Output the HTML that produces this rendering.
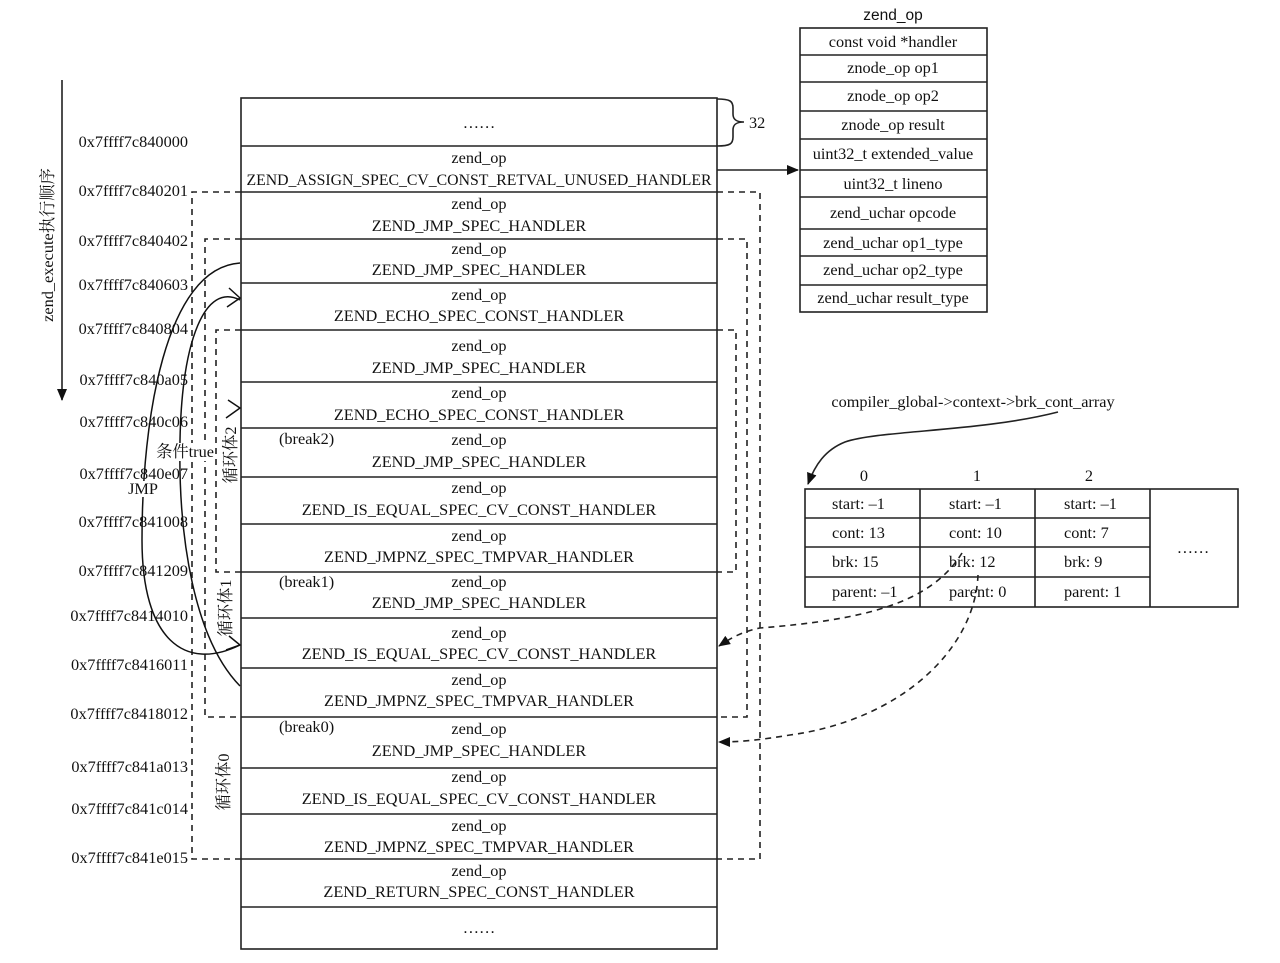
<!DOCTYPE html>
<html><head><meta charset="utf-8"><style>
html,body{margin:0;padding:0;background:#fff;}
svg{display:block;}
text{font-family:"Liberation Serif","Noto Serif CJK SC","Noto Sans CJK SC",serif;font-size:16.3px;fill:#111;}
.s{font-family:"Liberation Sans","DejaVu Sans",sans-serif;font-size:15.5px;}
</style></head><body>
<svg width="1280" height="963" viewBox="0 0 1280 963" xmlns="http://www.w3.org/2000/svg">
<defs>
<marker id="ah" markerWidth="12" markerHeight="10" refX="11" refY="5" orient="auto" markerUnits="userSpaceOnUse"><path d="M0,0 L12,5 L0,10 z" fill="#111"/></marker>
</defs>
<g stroke="#222" stroke-width="1.6" fill="none">
<rect x="241" y="98" width="476" height="851"/>
<path d="M241,146H717M241,192H717M241,239H717M241,283H717M241,330H717M241,382H717M241,428H717M241,477H717M241,524H717M241,572H717M241,618H717M241,668H717M241,717H717M241,768H717M241,814H717M241,859H717M241,907H717"/>
<path d="M717,99 C730,99 733,101 733,108 L733,114 C733,120 737,122 744,122 C737,122 733,124 733,130 L733,137 C733,144 730,146 717,146"/>
<path d="M717,170 H798" marker-end="url(#ah)"/>
<rect x="800" y="28" width="187" height="284"/>
<path d="M800,55H987M800,82H987M800,111H987M800,139H987M800,170H987M800,197H987M800,229H987M800,256H987M800,285H987"/>
<rect x="805" y="489" width="433" height="118"/>
<path d="M805,518H1150M805,547H1150M805,577H1150M920,489V607M1035,489V607M1150,489V607"/>
<path d="M1058,412 C980,432 880,430 845,442 C825,450 815,465 808,484" marker-end="url(#ah)"/>
<path d="M62,80 V400" marker-end="url(#ah)"/>
</g>
<g stroke="#222" stroke-width="1.6" fill="none" stroke-dasharray="6,5">
<path d="M241,192 H192 V859 H241"/>
<path d="M717,192 H760 V859 H717"/>
<path d="M241,239 H205 V717 H241"/>
<path d="M717,239 H747 V717 H717"/>
<path d="M241,330 H216 V572 H241"/>
<path d="M717,330 H736 V572 H717"/>
<path d="M962,553 C930,605 860,620 760,628 C740,632 728,640 719,646" marker-end="url(#ah)"/>
<path d="M978,575 C975,650 900,720 790,735 C760,740 740,742 719,742" marker-end="url(#ah)"/>
</g>
<g stroke="#111" stroke-width="1.5" fill="none">
<path d="M240,263 C165,268 142,420 142,540 C142,640 185,672 240,645"/>
<path d="M240,686 C195,640 178,540 180,440 C182,340 205,282 240,300"/>
<path d="M229,288 L240,298 L227,307"/>
<path d="M228,400 L240,408 L226,418"/>
<path d="M229,636 L240,645 L226,650"/>
</g>
<rect x="155" y="443" width="58" height="18" fill="#fff"/>
<rect x="128" y="481" width="32" height="16" fill="#fff"/>
<text x="185" y="457" text-anchor="middle">条件true</text>
<text x="143" y="494" text-anchor="middle">JMP</text>
<g text-anchor="end">
<text x="188" y="147">0x7ffff7c840000</text>
<text x="188" y="196">0x7ffff7c840201</text>
<text x="188" y="246">0x7ffff7c840402</text>
<text x="188" y="290">0x7ffff7c840603</text>
<text x="188" y="334">0x7ffff7c840804</text>
<text x="188" y="385">0x7ffff7c840a05</text>
<text x="188" y="427">0x7ffff7c840c06</text>
<text x="188" y="479">0x7ffff7c840e07</text>
<text x="188" y="527">0x7ffff7c841008</text>
<text x="188" y="576">0x7ffff7c841209</text>
<text x="188" y="621">0x7ffff7c8414010</text>
<text x="188" y="670">0x7ffff7c8416011</text>
<text x="188" y="719">0x7ffff7c8418012</text>
<text x="188" y="772">0x7ffff7c841a013</text>
<text x="188" y="814">0x7ffff7c841c014</text>
<text x="188" y="863">0x7ffff7c841e015</text>
</g>
<text transform="translate(53,245) rotate(-90)" text-anchor="middle">zend_execute执行顺序</text>
<text transform="translate(236,455) rotate(-90)" text-anchor="middle">循环体2</text>
<text transform="translate(231,608) rotate(-90)" text-anchor="middle">循环体1</text>
<text transform="translate(229,782) rotate(-90)" text-anchor="middle">循环体0</text>
<g text-anchor="middle">
<text x="479" y="128">……</text>
<text x="479" y="163">zend_op</text><text x="479" y="185" textLength="465" lengthAdjust="spacingAndGlyphs">ZEND_ASSIGN_SPEC_CV_CONST_RETVAL_UNUSED_HANDLER</text>
<text x="479" y="209">zend_op</text><text x="479" y="231">ZEND_JMP_SPEC_HANDLER</text>
<text x="479" y="254">zend_op</text><text x="479" y="275">ZEND_JMP_SPEC_HANDLER</text>
<text x="479" y="300">zend_op</text><text x="479" y="321">ZEND_ECHO_SPEC_CONST_HANDLER</text>
<text x="479" y="351">zend_op</text><text x="479" y="373">ZEND_JMP_SPEC_HANDLER</text>
<text x="479" y="398">zend_op</text><text x="479" y="420">ZEND_ECHO_SPEC_CONST_HANDLER</text>
<text x="479" y="445">zend_op</text><text x="479" y="467">ZEND_JMP_SPEC_HANDLER</text>
<text x="479" y="493">zend_op</text><text x="479" y="515">ZEND_IS_EQUAL_SPEC_CV_CONST_HANDLER</text>
<text x="479" y="541">zend_op</text><text x="479" y="562">ZEND_JMPNZ_SPEC_TMPVAR_HANDLER</text>
<text x="479" y="587">zend_op</text><text x="479" y="608">ZEND_JMP_SPEC_HANDLER</text>
<text x="479" y="638">zend_op</text><text x="479" y="659">ZEND_IS_EQUAL_SPEC_CV_CONST_HANDLER</text>
<text x="479" y="685">zend_op</text><text x="479" y="706">ZEND_JMPNZ_SPEC_TMPVAR_HANDLER</text>
<text x="479" y="734">zend_op</text><text x="479" y="756">ZEND_JMP_SPEC_HANDLER</text>
<text x="479" y="782">zend_op</text><text x="479" y="804">ZEND_IS_EQUAL_SPEC_CV_CONST_HANDLER</text>
<text x="479" y="831">zend_op</text><text x="479" y="852">ZEND_JMPNZ_SPEC_TMPVAR_HANDLER</text>
<text x="479" y="876">zend_op</text><text x="479" y="897">ZEND_RETURN_SPEC_CONST_HANDLER</text>
<text x="479" y="933">……</text>
</g>
<text x="279" y="444">(break2)</text>
<text x="279" y="587">(break1)</text>
<text x="279" y="732">(break0)</text>
<text x="749" y="128">32</text>
<text class="s" x="893" y="20" text-anchor="middle">zend_op</text>
<g text-anchor="middle">
<text x="893" y="47">const void *handler</text>
<text x="893" y="73">znode_op op1</text>
<text x="893" y="101">znode_op op2</text>
<text x="893" y="130">znode_op result</text>
<text x="893" y="159">uint32_t extended_value</text>
<text x="893" y="189">uint32_t lineno</text>
<text x="893" y="218">zend_uchar opcode</text>
<text x="893" y="248">zend_uchar op1_type</text>
<text x="893" y="275">zend_uchar op2_type</text>
<text x="893" y="303">zend_uchar result_type</text>
</g>
<text x="973" y="407" text-anchor="middle">compiler_global-&gt;context-&gt;brk_cont_array</text>
<g text-anchor="middle">
<text x="864" y="481">0</text><text x="977" y="481">1</text><text x="1089" y="481">2</text>
<text x="1193" y="553">……</text>
</g>
<g>
<text x="832" y="509">start: –1</text><text x="832" y="538">cont: 13</text><text x="832" y="567">brk: 15</text><text x="832" y="597">parent: –1</text>
<text x="949" y="509">start: –1</text><text x="949" y="538">cont: 10</text><text x="949" y="567">brk: 12</text><text x="949" y="597">parent: 0</text>
<text x="1064" y="509">start: –1</text><text x="1064" y="538">cont: 7</text><text x="1064" y="567">brk: 9</text><text x="1064" y="597">parent: 1</text>
</g>
</svg>
</body></html>
